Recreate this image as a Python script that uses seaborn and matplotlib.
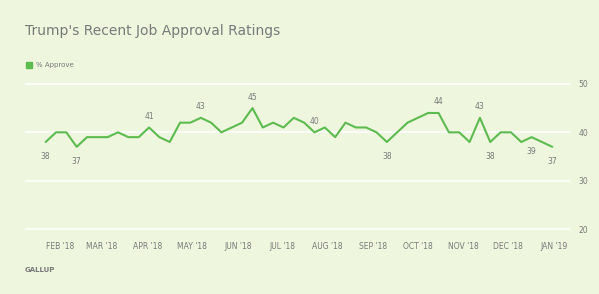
import matplotlib
matplotlib.use("Agg")
import matplotlib.pyplot as plt
import matplotlib.dates as mdates
from matplotlib.lines import Line2D
import numpy as np
import pandas as pd
import seaborn as sns

# weekly Gallup approval, late Jan 2018 - early Jan 2019
week_start = pd.date_range("2018-01-22", periods=50, freq="7D")
approve = [38, 40, 40, 37, 39, 39, 39, 40, 39, 39,
           41, 39, 38, 42, 42, 43, 42, 40, 41, 42,
           45, 41, 42, 41, 43, 42, 40, 41, 39, 42,
           41, 41, 40, 38, 40, 42, 43, 44, 44, 40,
           40, 38, 43, 38, 40, 40, 38, 39, 38, 37]

# which points get a value label, and whether it sits above (+1) or below (-1)
label_idx = [0, 3, 10, 15, 20, 26, 33, 38, 42, 43, 47, 49]
label_pos = [-1, -1, 1, 1, 1, 1, -1, 1, 1, -1, -1, -1]

month_ticks = pd.date_range("2018-02-01", "2019-01-01", freq="MS")
month_labels = ["FEB '18", "MAR '18", "APR '18", "MAY '18", "JUN '18", "JUL '18",
                "AUG '18", "SEP '18", "OCT '18", "NOV '18", "DEC '18", "JAN '19"]
y_ticks = [20, 30, 40, 50]

bg = "#eef6de"
green = "#5dbb4f"
grey = "#7a7a7a"

df = pd.DataFrame({"week": week_start, "approve": approve})

sns.set_style("white", {"axes.facecolor": bg, "figure.facecolor": bg})
plt.rcParams["font.family"] = ["DejaVu Sans"]

fig = plt.figure(figsize=(5.99, 2.94), dpi=100)
ax = fig.add_axes([0.0417, 0.2177, 0.9099, 0.5]) # small margin so 20/50 grid lines show

sns.lineplot(data=df, x="week", y="approve", color=green, linewidth=1.5, ax=ax)

for i, p in zip(label_idx, label_pos):
    ax.annotate(str(approve[i]), (df["week"][i], approve[i]),
                xytext=(0, 8 if p > 0 else -10.5), textcoords="offset points",
                ha="center", va="center", fontsize=5.5, color=grey)

ax.set_ylim(19.8, 50.2)
ax.set_xlim(pd.Timestamp("2018-01-08"), pd.Timestamp("2019-01-12"))
ax.set_yticks(y_ticks)
ax.yaxis.tick_right()
ax.grid(axis="y", color="white", linewidth=1.1)
ax.set_axisbelow(True)
ax.set_xticks(month_ticks)
ax.set_xticklabels(month_labels)
ax.tick_params(axis="x", colors="white", length=6, width=1, labelcolor=grey,
               labelsize=5.5, pad=3)
ax.tick_params(axis="y", length=0, labelcolor=grey, labelsize=5.5, pad=6)
for s in ax.spines.values():
    s.set_visible(False)
ax.set_xlabel("")
ax.set_ylabel("")

fig.text(0.0417, 0.895, "Trump's Recent Job Approval Ratings", fontsize=10,
         color=grey, ha="left", va="center")
fig.text(0.0417, 0.082, "GALLUP", fontsize=5, color=grey, ha="left",
         va="center", fontweight="bold")
handle = Line2D([], [], marker="s", linestyle="", color=green, markersize=5)
fig.legend(handles=[handle], labels=["% Approve"], loc="center left",
           bbox_to_anchor=(0.036, 0.779), frameon=False, fontsize=5,
           handletextpad=0.1, borderpad=0, borderaxespad=0, labelcolor=grey)

fig.savefig("out.png", dpi=100, facecolor=bg)
